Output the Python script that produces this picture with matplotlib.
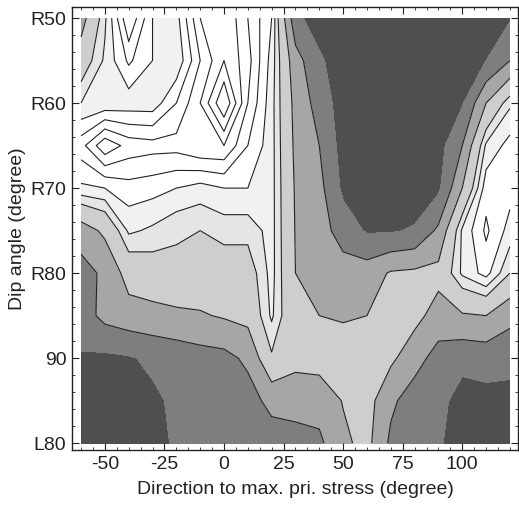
import numpy as np
import matplotlib
matplotlib.use("Agg")
import matplotlib.pyplot as plt
from matplotlib.colors import ListedColormap, BoundaryNorm
from matplotlib.ticker import MultipleLocator

plt.rcParams['font.family'] = ['Liberation Sans', 'DejaVu Sans']
plt.rcParams['axes.unicode_minus'] = False

# Direction to max. principal stress (degree) and dip angle (50 = R50 ... 100 = L80)
direction = np.arange(-60, 121, 10)
dip = np.arange(50, 101, 5)

# gridded values read from the shading (0 = darkest, higher = lighter)
row_50 = [2.6, 4.4, 6.5, 5.0, 4.8, 6.5, 7.0, 6.0, 5.0, 1.3, 0.4, 0.3, 0.3, 0.3, 0.3, 0.3, 0.5, 0.7, 0.9]
row_55 = [3.5, 4.6, 5.6, 5.0, 4.6, 6.0, 7.0, 6.2, 4.8, 2.4, 1.2, 0.3, 0.3, 0.3, 0.3, 0.3, 0.5, 1.0, 2.0]
row_60 = [4.5, 4.6, 4.7, 4.7, 5.5, 6.5, 8.0, 6.0, 4.7, 2.7, 1.6, 0.5, 0.3, 0.3, 0.3, 0.4, 0.9, 3.0, 4.4]
row_65 = [5.8, 6.9, 6.3, 6.2, 6.2, 6.5, 6.5, 5.5, 4.7, 2.8, 2.0, 0.6, 0.3, 0.3, 0.3, 0.6, 2.0, 4.6, 5.2]
row_70 = [4.9, 5.0, 5.3, 5.2, 5.0, 4.8, 5.0, 5.0, 4.7, 2.9, 2.3, 0.8, 0.3, 0.3, 0.4, 0.8, 3.0, 5.3, 5.2]
row_75 = [2.5, 3.2, 4.6, 4.4, 4.1, 4.0, 4.2, 4.2, 4.7, 2.95, 2.5, 1.5, 0.9, 0.9, 1.1, 2.2, 4.6, 5.6, 4.8]
row_80 = [1.6, 2.2, 3.4, 3.6, 3.8, 3.7, 3.6, 3.6, 4.7, 3.0, 2.5, 2.5, 2.5, 3.1, 3.2, 3.3, 4.6, 5.2, 4.0]
row_85 = [1.5, 2.3, 2.6, 2.7, 2.8, 2.9, 3.1, 3.3, 4.6, 3.2, 3.0, 2.9, 3.0, 3.4, 3.3, 2.6, 2.9, 3.0, 2.3]
row_90 = [0.9, 0.8, 0.9, 1.2, 1.4, 1.6, 1.7, 2.2, 3.9, 3.3, 3.4, 3.5, 3.5, 3.2, 2.4, 1.6, 1.3, 1.4, 1.3]
row_95 = [0.4, 0.4, 0.5, 0.8, 1.2, 1.4, 1.6, 1.6, 2.3, 2.4, 2.4, 3.05, 3.4, 2.2, 1.5, 1.3, 0.6, 0.7, 0.7]
row_100 = [0.4, 0.4, 0.4, 0.5, 1.2, 1.4, 1.3, 1.2, 1.5, 1.6, 1.8, 2.8, 3.3, 1.8, 1.3, 1.1, 0.6, 0.7, 0.7]

Z = np.array([row_50, row_55, row_60, row_65, row_70, row_75,
              row_80, row_85, row_90, row_95, row_100])

ytick_vals = [50, 60, 70, 80, 90, 100]
ytick_labels = ['R50', 'R60', 'R70', 'R80', '90', 'L80']
xtick_vals = [-50, -25, 0, 25, 50, 75, 100]

fill_levels = [-1, 1, 2, 3, 4, 4.5, 5, 20]
fill_colors = ['#4f4f4f', '#7e7e7e', '#a6a6a6', '#cecece', '#e5e5e5', '#f1f1f1', '#ffffff']
line_levels = [2, 3, 4, 4.5, 5, 5.5, 6, 6.5, 7, 7.5]

fig = plt.figure(figsize=(5.19, 5.09), dpi=100)
ax = fig.add_axes([72/519, 59/509, 446/519, 443/509])

cmap = ListedColormap(fill_colors)
norm = BoundaryNorm(fill_levels, cmap.N)
X, Y = np.meshgrid(direction, dip)
ax.contourf(X, Y, Z, levels=fill_levels, cmap=cmap, norm=norm)
ax.contour(X, Y, Z, levels=line_levels, colors='#222222', linewidths=0.8)

ax.set_xlim(-63.8, 123.4)
ax.set_ylim(100.8, 48.7)
ax.set_xticks(xtick_vals)
ax.set_yticks(ytick_vals)
ax.set_yticklabels(ytick_labels)
ax.xaxis.set_minor_locator(MultipleLocator(5))
ax.yaxis.set_minor_locator(MultipleLocator(2))
ax.tick_params(which='both', direction='in', top=True, right=True, labelsize=14, colors='#222222')
ax.tick_params(which='major', length=5, width=0.8, pad=4)
ax.tick_params(which='minor', length=2.5, width=0.6)
for s in ax.spines.values():
    s.set_linewidth(1.0)
    s.set_color('#222222')

ax.set_xlabel('Direction to max. pri. stress (degree)', fontsize=14, color='#222222', labelpad=6)
ax.set_ylabel('Dip angle (degree)', fontsize=14, color='#222222', labelpad=3)

fig.savefig('out.png', dpi=100)
